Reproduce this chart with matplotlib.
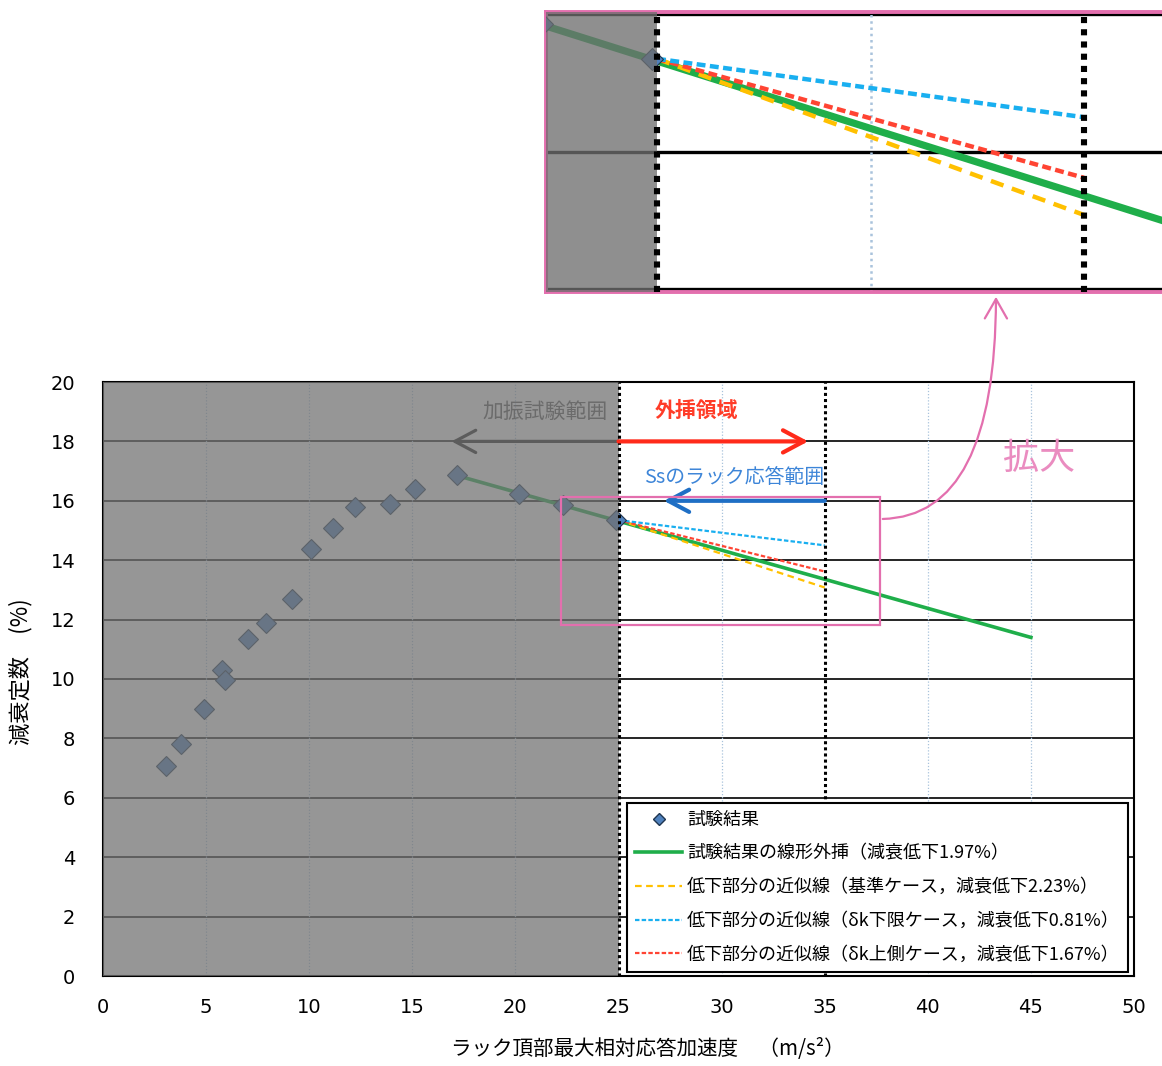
import matplotlib
matplotlib.use("Agg")
import matplotlib.pyplot as plt
from matplotlib.patches import Rectangle, FancyArrowPatch
from matplotlib.lines import Line2D

plt.rcParams['font.family'] = ['Noto Sans CJK JP', 'DejaVu Sans']

# 試験結果 (ラック頂部最大相対応答加速度, 減衰定数)
acc = [3.05, 3.78, 4.90, 5.77, 5.92, 7.03, 7.90, 9.17, 10.09, 11.15,
       12.22, 13.92, 15.13, 17.17, 20.17, 22.31, 24.88]
damp = [7.07, 7.81, 8.99, 10.30, 9.97, 11.35, 11.89, 12.69, 14.38, 15.08,
        15.79, 15.89, 16.40, 16.87, 16.23, 15.86, 15.35]

# 線形外挿 / 近似線
ext_x = [17.17, 45.0]
ext_y = [16.85, 11.40]
fit_x = [25.0, 35.0]
base_y = [15.35, 13.08]
lower_y = [15.35, 14.50]
upper_y = [15.35, 13.62]

labels = ["試験結果",
          "試験結果の線形外挿（減衰低下1.97%）",
          "低下部分の近似線（基準ケース，減衰低下2.23%）",
          "低下部分の近似線（δk下限ケース，減衰低下0.81%）",
          "低下部分の近似線（δk上側ケース，減衰低下1.67%）"]

GREEN = '#1fae4a'
YELLOW = '#ffc000'
BLUE = '#19aff0'
RED = '#ff4433'
PINK = '#e36fae'

W, H = 1162, 1066
fig = plt.figure(figsize=(W / 100, H / 100), dpi=100)


def draw_content(ax, s=1.0, ms=10):
    # s: 線幅の倍率 (拡大図用)
    ax.set_xlim(0, 50)
    ax.set_ylim(0, 20)
    for yv in range(2, 20, 2):
        ax.axhline(yv, color='black', lw=1.2 * s, zorder=0.5)
    for xv in range(5, 50, 5):
        if xv in (25, 35):
            continue
        ax.axvline(xv, color='#a9c3dc', lw=0.9 * s, ls=(0, (1, 1.5)), zorder=0.5)
    ax.plot(ext_x, ext_y, color=GREEN, lw=2.6 * s, zorder=3)
    ax.plot(fit_x, base_y, color=YELLOW, lw=1.6 * s, ls=(0, (3, 2)), zorder=3)
    ax.plot(fit_x, upper_y, color=RED, lw=1.6 * s, ls=(0, (2, 1)), zorder=3)
    ax.plot(fit_x, lower_y, color=BLUE, lw=1.6 * s, ls=(0, (2, 1)), zorder=3)
    ax.plot(acc, damp, ls='none', marker='D', ms=ms, mfc='#4f81bd',
            mec='#1f3550', mew=0.8, zorder=3.5)
    # 加振試験範囲 (灰色の覆い)
    ax.axvspan(0, 25, color='#727272', alpha=0.74, lw=0, zorder=4)
    for xv in (25, 35):
        ax.axvline(xv, color='black', lw=2.2 * s, ls=(0, (1, 1)), zorder=5)
    ax.set_xticks(range(0, 51, 5))
    ax.set_yticks(range(0, 21, 2))


# ---- メインのグラフ ----
ax = fig.add_axes([103 / W, 1 - 976 / H, (1134 - 103) / W, (976 - 382) / H])
draw_content(ax)
for sp in ax.spines.values():
    sp.set_color('black')
    sp.set_linewidth(1.5)
ax.tick_params(length=0, labelsize=14, pad=16)
ax.tick_params(axis='y', pad=20)
for t in ax.get_xticklabels() + ax.get_yticklabels():
    t.set_fontfamily('DejaVu Sans')
ax.set_xlabel("ラック頂部最大相対応答加速度　（m/s²）", fontsize=14.8)
ax.xaxis.set_label_coords(0.528, -0.105)
ax.set_ylabel("減衰定数　(%)", fontsize=16)
ax.yaxis.set_label_coords(-0.068, 0.512)

# 矢印と注記
def arrow(x0, x1, y, color, lw):
    ax.add_patch(FancyArrowPatch((x0, y), (x1, y), arrowstyle='->,head_length=0.75,head_width=0.4',
                                 mutation_scale=20, color=color, lw=lw, zorder=6,
                                 shrinkA=0, shrinkB=0, capstyle='round', joinstyle='round'))

arrow(25, 16.9, 18, '#5c5c5c', 2.3)
arrow(25, 34.2, 18, '#ff2a1a', 3.0)
arrow(35, 27.2, 16, '#1f6fc5', 3.0)
ax.text(24.5, 19.0, "加振試験範囲", color='#6b6b6b', fontsize=15, ha='right', va='center', zorder=6)
ax.text(28.8, 19.05, "外挿領域", color='#ff3c28', fontsize=15, ha='center', va='center',
        fontweight='bold', zorder=6)
ax.text(30.6, 16.78, "Ssのラック応答範囲", color='#3d85d8', fontsize=14.3, ha='center', va='center',
        zorder=6)
ax.text(45.4, 17.4, "拡大", color='#ea8cc0', fontsize=26, ha='center', va='center', zorder=6)

# 拡大範囲の枠
ax.add_patch(Rectangle((22.2, 11.82), 15.5, 4.31, fill=False, ec=PINK, lw=1.6, zorder=7))

# 凡例
handles = [
    Line2D([], [], ls='none', marker='D', ms=6, mfc='#4f81bd', mec='#1f3550'),
    Line2D([], [], color=GREEN, lw=2.6),
    Line2D([], [], color=YELLOW, lw=1.6, ls=(0, (3, 2))),
    Line2D([], [], color=BLUE, lw=1.6, ls=(0, (2, 1))),
    Line2D([], [], color=RED, lw=1.6, ls=(0, (2, 1))),
]
leg = ax.legend(handles, labels, loc='lower right', bbox_to_anchor=(0.994, 0.007),
                borderaxespad=0, fontsize=13, frameon=True, fancybox=False,
                edgecolor='black', framealpha=1, handlelength=2.6, labelspacing=0.87,
                borderpad=0.45, handletextpad=0.25)
leg.get_frame().set_linewidth(1.5)
leg.set_zorder(10)

# ---- 拡大図 ----
ins_left, ins_right = 546, 1208
ins = fig.add_axes([ins_left / W, 1 - 292 / H, (ins_right - ins_left) / W, (292 - 12) / H])
draw_content(ins, s=2.0, ms=11)
ins.axvspan(0, 25, color='#606060', alpha=0.12, lw=0, zorder=4)
ins.set_xlim(22.4, 22.4 + (ins_right - ins_left) / 42.7)
ins.set_ylim(11.96, 16.03)
ins.set_xticks([])
ins.set_yticks([])
for sp in ins.spines.values():
    sp.set_color(PINK)
    sp.set_linewidth(2.8)

# 拡大への曲線矢印
fig.patches.append(FancyArrowPatch((880 / W, 1 - 519 / H), (996 / W, 1 - 294 / H),
                                   transform=fig.transFigure, figure=fig,
                                   connectionstyle='angle3,angleA=0,angleB=90',
                                   arrowstyle='->,head_length=0.7,head_width=0.4',
                                   mutation_scale=20, color=PINK, lw=1.6))

fig.savefig("out.png", dpi=100)
